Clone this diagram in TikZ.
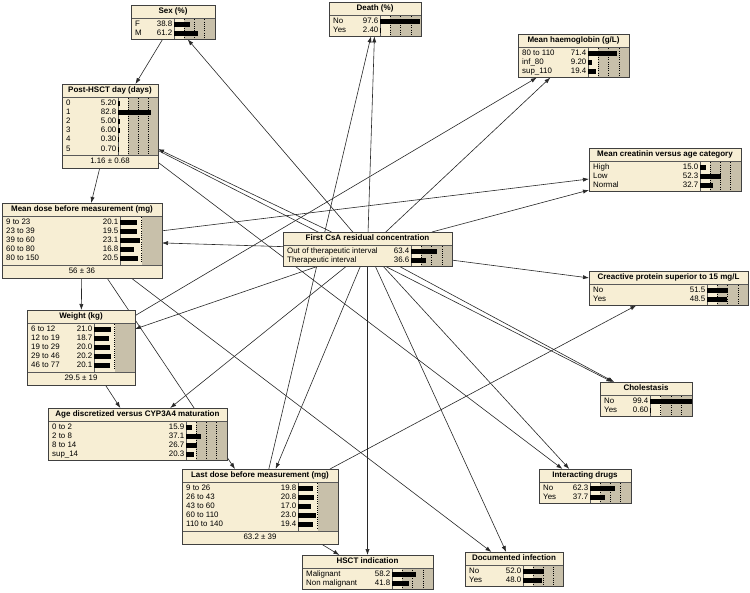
\documentclass[tikz,border=0pt]{standalone}
\usepackage{fontspec}
\setmainfont{Liberation Sans}
\usetikzlibrary{arrows.meta}
\pgfdeclarelayer{bnback}
\pgfsetlayers{bnback,main}
\definecolor{bnbeige}{RGB}{247,238,212}
\definecolor{bngray}{RGB}{200,192,170}
\definecolor{bnedgec}{RGB}{40,40,40}
\tikzset{
 bnframe/.style={draw=none, fill=bnbeige, rectangle, inner sep=0pt, outer sep=0pt},
 bnborder/.style={draw=black!75, line width=0.8pt},
 bnline/.style={draw=black!65, line width=0.6pt},
 bndot/.style={black, line width=0.5pt, dash pattern=on 1pt off 1.2pt},
 bntext/.style={inner sep=0pt, font=\fontsize{7.9}{9}\selectfont, text height=5.6pt, text depth=1.5pt},
 bntitle/.style={inner sep=0pt, font=\bfseries\fontsize{8}{9}\selectfont, text height=5.7pt, text depth=1.5pt},
 bnedge/.style={draw=bnedgec, line width=0.6pt, -{Latex[length=6pt,width=4.2pt]}}
}
% #1 name, #2 left, #3 top, #4 right, #5 title, #6 bar start, #7 scale (px per 100%), #8 rows, #9 footer
\newcommand{\bnbox}[9]{%
  \foreach \bnl/\bnv [count=\bni] in {#8} {\xdef\bnn{\bni}}%
  \pgfmathsetmacro\bnBody{\bnn*9.2+3}%
  \def\bntmp{#9}%
  \ifx\bntmp\empty\def\bnF{0}\else\def\bnF{13}\fi
  \pgfmathsetmacro\bnH{13+\bnBody+\bnF}%
  \pgfmathsetmacro\bnW{#4-#2}%
  \node[bnframe, minimum width=\bnW pt, minimum height=\bnH pt, anchor=north west] (#1) at (#2,#3) {};
  \pgfmathsetmacro\bnTb{#3+13}%
  \pgfmathsetmacro\bnBb{#3+13+\bnBody}%
  \pgfmathsetmacro\bnG{min(#6+0.25*#7,#4)}%
  \pgfmathsetmacro\bnLim{#4-1}%
  \fill[bngray] (\bnG,\bnTb) rectangle (#4,\bnBb);
  \foreach \bnf in {0.25,0.5,0.75}{%
    \pgfmathsetmacro\bndx{#6+\bnf*#7}%
    \ifdim\bndx pt<\bnLim pt\relax
      \draw[bndot] (\bndx,\bnTb+1.5) -- (\bndx,\bnBb-1.5);
    \fi
  }
  \draw[bnline] (#2,\bnTb) -- (#4,\bnTb);
  \draw[bnline] (#6,\bnTb) -- (#6,\bnBb);
  \ifx\bntmp\empty\else
    \draw[bnline] (#2,\bnBb) -- (#4,\bnBb);
    \node[bntext] at ({(#2+#4)/2},\bnBb+6.5) {#9};
  \fi
  \node[bntitle] at ({(#2+#4)/2},#3+6.5) {#5};
  \foreach \bnl/\bnv [count=\bni] in {#8}{%
    \pgfmathsetmacro\bny{\bnTb+1.5+(\bni-0.5)*9.2}%
    \node[bntext,anchor=west] at (#2+4,\bny) {\bnl};
    \node[bntext,anchor=east] at (#6-1.5,\bny) {\bnv};
    \pgfmathsetmacro\bnx{min(#6+#7*\bnv/100,#4-0.5)}%
    \fill[black] (#6,\bny-2.5) rectangle (\bnx,\bny+2.5);
  }
  \draw[bnborder] (#2,#3) rectangle (#4,#3+\bnH);
}
\begin{document}
\begin{tikzpicture}[x=1pt,y=-1pt]
\useasboundingbox (0,0) rectangle (750,593);
\begin{pgfonlayer}{bnback}
\fill[white] (0,0) rectangle (750,593);
\end{pgfonlayer}

\bnbox{sex}{131}{5}{215}{Sex (\%)}{174}{40}{F/38.8, M/61.2}{}
\bnbox{death}{329}{2}{421}{Death (\%)}{380}{41}{No/97.6, Yes/2.40}{}
\bnbox{hb}{518}{34}{629}{Mean haemoglobin (g/L)}{588}{41}{80 to 110/71.4, inf\_80/9.20, sup\_110/19.4}{}
\bnbox{post}{62}{84}{158}{Post-HSCT day (days)}{118}{40}{0/5.20, 1/82.8, 2/5.00, 3/6.00, 4/0.30, 5/0.70}{1.16 ± 0.68}
\bnbox{creat}{589}{148}{741}{Mean creatinin versus age category}{700}{40}{High/15.0, Low/52.3, Normal/32.7}{}
\bnbox{mdose}{2}{203}{162}{Mean dose before measurement (mg)}{120}{86}{9 to 23/20.1, 23 to 39/19.5, 39 to 60/23.1, 60 to 80/16.8, 80 to 150/20.5}{56 ± 36}
\bnbox{csa}{283}{232}{452}{First CsA residual concentration}{411}{41}{Out of therapeutic interval/63.4, Therapeutic interval/36.6}{}
\bnbox{crp}{589}{271}{748}{Creactive protein superior to 15 mg/L}{707}{41}{No/51.5, Yes/48.5}{}
\bnbox{weight}{27}{310}{135}{Weight (kg)}{94}{82}{6 to 12/21.0, 12 to 19/18.7, 19 to 29/20.0, 29 to 46/20.2, 46 to 77/20.1}{29.5 ± 19}
\bnbox{age}{48}{408}{227}{Age discretized versus CYP3A4 maturation}{186}{40}{0 to 2/15.9, 2 to 8/37.1, 8 to 14/26.7, sup\_14/20.3}{}
\bnbox{chol}{600}{382}{692}{Cholestasis}{650}{42}{No/99.4, Yes/0.60}{}
\bnbox{ldose}{182}{469}{338}{Last dose before measurement (mg)}{298}{78}{9 to 26/19.8, 26 to 43/20.8, 43 to 60/17.0, 60 to 110/23.0, 110 to 140/19.4}{63.2 ± 39}
\bnbox{drugs}{539}{469}{631}{Interacting drugs}{590}{40}{No/62.3, Yes/37.7}{}
\bnbox{hsct}{302}{555}{433}{HSCT indication}{392}{41}{Malignant/58.2, Non malignant/41.8}{}
\bnbox{infect}{465}{552}{563}{Documented infection}{523}{40}{No/52.0, Yes/48.0}{}

\begin{pgfonlayer}{bnback}
\foreach \bnc in {sex,death,hb,post,creat,mdose,crp,weight,age,chol,ldose,drugs,hsct,infect}
  \draw[bnedge] (csa) -- (\bnc);
\draw[bnedge] (sex) -- (post);
\draw[bnedge] (post) -- (mdose);
\draw[bnedge] (post) -- (chol);
\draw[bnedge] (post) -- (drugs);
\draw[bnedge] (mdose) -- (weight);
\draw[bnedge] (mdose) -- (ldose);
\draw[bnedge] (mdose) -- (creat);
\draw[bnedge] (mdose) -- (infect);
\draw[bnedge] (weight) -- (age);
\draw[bnedge] (weight) -- (hb);
\draw[bnedge] (ldose) -- (death);
\draw[bnedge] (ldose) -- (crp);
\draw[bnedge] (ldose) -- (hsct);
\end{pgfonlayer}
\end{tikzpicture}
\end{document}
